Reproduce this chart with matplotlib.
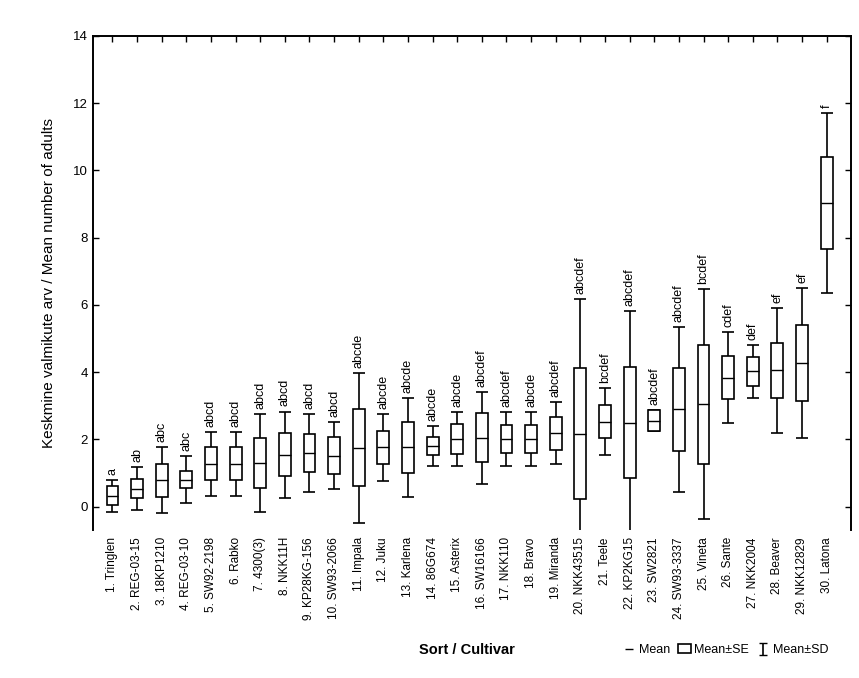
import numpy as np
import matplotlib
matplotlib.use("Agg")
import matplotlib.pyplot as plt
from matplotlib.patches import Rectangle
from matplotlib.lines import Line2D

plt.rcParams['font.family'] = ['Liberation Sans', 'DejaVu Sans']

cultivars = ["1. Tringlen", "2. REG-03-15", "3. 18KP1210", "4. REG-03-10", "5. SW92-2198",
             "6. Rabko", "7. 4300(3)", "8. NKK11H", "9. KP28KG-156", "10. SW93-2066",
             "11. Impala", "12. Juku", "13. Karlena", "14. 86G674", "15. Asterix",
             "16. SW16166", "17. NKK110", "18. Bravo", "19. Miranda", "20. NKK43515",
             "21. Teele", "22. KP2KG15", "23. SW2821", "24. SW93-3337", "25. Vineta",
             "26. Sante", "27. NKK2004", "28. Beaver", "29. NKK12829", "30. Latona"]
means = [0.32, 0.54, 0.78, 0.80, 1.28, 1.28, 1.30, 1.55, 1.60, 1.52,
         1.75, 1.76, 1.76, 1.80, 2.02, 2.05, 2.02, 2.02, 2.18, 2.17,
         2.53, 2.50, 2.56, 2.90, 3.04, 3.84, 4.02, 4.05, 4.26, 9.03]
se = [0.28, 0.28, 0.50, 0.25, 0.50, 0.50, 0.75, 0.64, 0.57, 0.54,
      1.15, 0.50, 0.77, 0.27, 0.45, 0.73, 0.42, 0.42, 0.48, 1.94,
      0.50, 1.65, 0.30, 1.23, 1.76, 0.64, 0.42, 0.82, 1.13, 1.37]
sd = [0.48, 0.65, 0.98, 0.70, 0.95, 0.95, 1.45, 1.28, 1.15, 1.00,
      2.23, 1.00, 1.46, 0.60, 0.80, 1.37, 0.80, 0.80, 0.92, 4.00,
      1.00, 3.33, 0.30, 2.45, 3.42, 1.34, 0.80, 1.85, 2.23, 2.68]
letters = ["a", "ab", "abc", "abc", "abcd", "abcd", "abcd", "abcd", "abcd", "abcd",
           "abcde", "abcde", "abcde", "abcde", "abcde", "abcdef", "abcdef", "abcde", "abcdef", "abcdef",
           "bcdef", "abcdef", "abcdef", "abcdef", "bcdef", "cdef", "def", "ef", "ef", "f"]
yticks = [0, 2, 4, 6, 8, 10, 12, 14]

fig = plt.figure(figsize=(8.59, 6.78), dpi=100)
ax = fig.add_axes([0.108, 0.218, 0.883, 0.729])

x = np.arange(1, len(cultivars) + 1)
m = np.array(means); s = np.array(se); d = np.array(sd)

ax.errorbar(x, m, yerr=d, fmt='none', ecolor='black', elinewidth=1.2,
            capsize=4, capthick=1.2, zorder=2)
ax.bar(x, 2 * s, bottom=m - s, width=0.48, facecolor='white',
       edgecolor='black', linewidth=1.2, zorder=3)
ax.hlines(m, x - 0.24, x + 0.24, colors='black', linewidth=1.0, zorder=4)

for xi, top, lab in zip(x, m + d, letters):
    ax.text(xi, top + 0.15, lab, rotation=90, ha='center', va='bottom',
            fontsize=9, zorder=5)

ax.set_xlim(0.2, 31.0)
ax.set_ylim(-0.7, 14)
ax.set_yticks(yticks)
ax.set_yticklabels([str(v) for v in yticks], fontsize=9.5)
ax.set_xticks(x)
ax.set_xticklabels(cultivars, rotation=90, fontsize=8.5)
ax.tick_params(direction='in', top=True, right=True, length=4, width=1)
ax.tick_params(axis='x', bottom=False, pad=5)
for sp in ax.spines.values():
    sp.set_linewidth(1.4)
ax.spines['bottom'].set_visible(False)

ax.set_ylabel("Keskmine valmikute arv / Mean number of adults", fontsize=11, labelpad=12)

fig.text(0.544, 0.041, "Sort / Cultivar", ha='center', va='center',
         fontsize=10.5, fontweight='bold')

h_mean = Line2D([], [], color='black', marker='_', linestyle='none', markersize=6)
h_se = Rectangle((0, 0), 1, 1, facecolor='white', edgecolor='black', linewidth=1.2)
h_sd = ax.errorbar([np.nan], [np.nan], yerr=[1], fmt='none', ecolor='black',
                   capsize=3, elinewidth=1.2)
fig.legend([h_mean, h_se, h_sd], ["Mean", "Mean±SE", "Mean±SD"],
           loc='center', bbox_to_anchor=(0.845, 0.041), ncol=3, frameon=False,
           fontsize=9, handlelength=1.0, handletextpad=0.3, columnspacing=0.6)

fig.savefig("out.png", dpi=100)
